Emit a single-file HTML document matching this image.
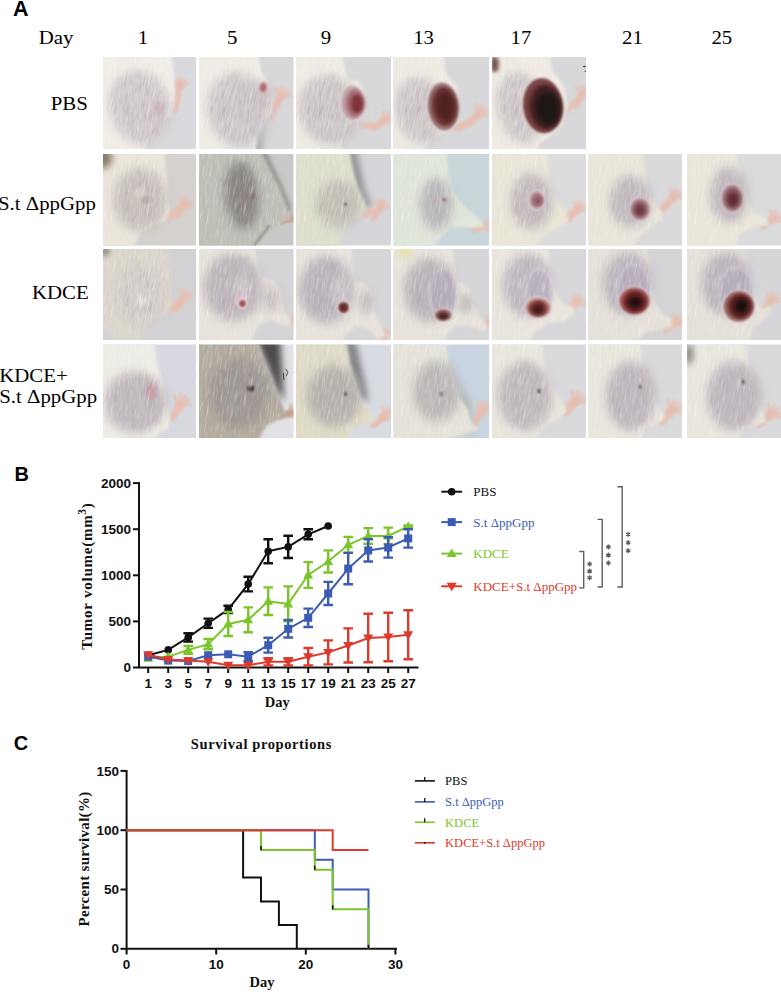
<!DOCTYPE html>
<html><head><meta charset="utf-8"><style>
html,body{margin:0;padding:0;background:#fff;}
svg{display:block;}
</style></head><body>
<svg width="781" height="992" viewBox="0 0 781 992">
<defs>
<filter id="b1" filterUnits="userSpaceOnUse" x="-40" y="-40" width="180" height="180"><feGaussianBlur stdDeviation="1"/></filter>
<filter id="b1_5" filterUnits="userSpaceOnUse" x="-40" y="-40" width="180" height="180"><feGaussianBlur stdDeviation="1.5"/></filter>
<filter id="b2" filterUnits="userSpaceOnUse" x="-40" y="-40" width="180" height="180"><feGaussianBlur stdDeviation="2"/></filter>
<filter id="b3" filterUnits="userSpaceOnUse" x="-40" y="-40" width="180" height="180"><feGaussianBlur stdDeviation="3"/></filter>
<filter id="b4" filterUnits="userSpaceOnUse" x="-40" y="-40" width="180" height="180"><feGaussianBlur stdDeviation="4"/></filter>
<filter id="b5" filterUnits="userSpaceOnUse" x="-40" y="-40" width="180" height="180"><feGaussianBlur stdDeviation="5"/></filter>
<filter id="b6" filterUnits="userSpaceOnUse" x="-40" y="-40" width="180" height="180"><feGaussianBlur stdDeviation="6"/></filter>
<filter id="b7" filterUnits="userSpaceOnUse" x="-40" y="-40" width="180" height="180"><feGaussianBlur stdDeviation="7"/></filter>
<filter id="b8" filterUnits="userSpaceOnUse" x="-40" y="-40" width="180" height="180"><feGaussianBlur stdDeviation="8"/></filter>
<filter id="b10" filterUnits="userSpaceOnUse" x="-40" y="-40" width="180" height="180"><feGaussianBlur stdDeviation="10"/></filter>
<filter id="fur" filterUnits="userSpaceOnUse" x="-40" y="-40" width="180" height="180">
<feGaussianBlur in="SourceAlpha" stdDeviation="5" result="a"/>
<feTurbulence type="fractalNoise" baseFrequency="0.9 0.07" numOctaves="2" seed="4" result="noise"/>
<feColorMatrix in="noise" type="matrix" values="0 0 0 0 0.45  0 0 0 0 0.36  0 0 0 0 0.40  1.5 0 0 0 -0.66" result="streak"/>
<feComposite in="streak" in2="a" operator="in"/>
</filter>
<filter id="furl" filterUnits="userSpaceOnUse" x="-40" y="-40" width="180" height="180">
<feGaussianBlur in="SourceAlpha" stdDeviation="1.5" result="a"/>
<feTurbulence type="fractalNoise" baseFrequency="0.9 0.06" numOctaves="2" seed="11" result="noise"/>
<feColorMatrix in="noise" type="matrix" values="0 0 0 0 1  0 0 0 0 1  0 0 0 0 0.98  1.0 0 0 0 -0.5" result="streak"/>
<feComposite in="streak" in2="a" operator="in"/>
</filter>
<clipPath id="cp"><rect x="0" y="0" width="100" height="100"/></clipPath>
</defs>
<rect width="781" height="992" fill="#fff"/>
<text x="13" y="16" font-family='"Liberation Sans", sans-serif' font-size="21.5" font-weight="bold" text-anchor="start" fill="#000" >A</text>
<text transform="translate(38.8,44.2) scale(1.17,1)" font-family='"Liberation Serif", serif' font-size="17.8" text-anchor="start" fill="#000">Day</text>
<text transform="translate(143,44.2) scale(1.17,1)" font-family='"Liberation Serif", serif' font-size="17.8" text-anchor="middle" fill="#000">1</text>
<text transform="translate(232.1,44.2) scale(1.17,1)" font-family='"Liberation Serif", serif' font-size="17.8" text-anchor="middle" fill="#000">5</text>
<text transform="translate(325.9,44.2) scale(1.17,1)" font-family='"Liberation Serif", serif' font-size="17.8" text-anchor="middle" fill="#000">9</text>
<text transform="translate(423.6,44.2) scale(1.17,1)" font-family='"Liberation Serif", serif' font-size="17.8" text-anchor="middle" fill="#000">13</text>
<text transform="translate(521,44.2) scale(1.17,1)" font-family='"Liberation Serif", serif' font-size="17.8" text-anchor="middle" fill="#000">17</text>
<text transform="translate(632.5,44.2) scale(1.17,1)" font-family='"Liberation Serif", serif' font-size="17.8" text-anchor="middle" fill="#000">21</text>
<text transform="translate(721.8,44.2) scale(1.17,1)" font-family='"Liberation Serif", serif' font-size="17.8" text-anchor="middle" fill="#000">25</text>
<text transform="translate(87.8,109.8) scale(1.17,1)" font-family='"Liberation Serif", serif' font-size="17.8" text-anchor="end" fill="#000">PBS</text>
<text transform="translate(95.8,210.3) scale(1.17,1)" font-family='"Liberation Serif", serif' font-size="17.8" text-anchor="end" fill="#000">S.t ΔppGpp</text>
<text transform="translate(88.7,299.3) scale(1.17,1)" font-family='"Liberation Serif", serif' font-size="17.8" text-anchor="end" fill="#000">KDCE</text>
<text transform="translate(-0.7,382) scale(1.17,1)" font-family='"Liberation Serif", serif' font-size="17.8" text-anchor="start" fill="#000">KDCE+</text>
<text transform="translate(-0.7,403.4) scale(1.17,1)" font-family='"Liberation Serif", serif' font-size="17.8" text-anchor="start" fill="#000">S.t ΔppGpp</text>
<g transform="translate(103,57) scale(0.9300,0.9200)"><g clip-path="url(#cp)"><rect x="-5" y="-5" width="110" height="110" fill="#dadade"/><path d="M72,60 L78,42 L84,40 L80,62Z" fill="#e6bfb2" filter="url(#b2)"/><g transform="translate(82,33) rotate(-75) scale(1.1)" fill="#e6bfb2" filter="url(#b1)"><rect x="-14" y="-2.6" width="14" height="5.2" rx="2.6"/><ellipse cx="0" cy="0" rx="5" ry="4.2"/><rect x="2.5" y="-1.1" width="8.5" height="2.2" rx="1.1" transform="rotate(-55)"/><rect x="2.5" y="-1.1" width="8.5" height="2.2" rx="1.1" transform="rotate(-25)"/><rect x="2.5" y="-1.1" width="8.5" height="2.2" rx="1.1" transform="rotate(0)"/><rect x="2.5" y="-1.1" width="8.5" height="2.2" rx="1.1" transform="rotate(25)"/><rect x="2.5" y="-1.1" width="8.5" height="2.2" rx="1.1" transform="rotate(50)"/></g><path d="M-5,-5 L73,-5 L76,15 L77,40 L76,55 L72,64 L62,70 L52,80 L44,105 L-5,105Z" fill="#f0ede7" filter="url(#b1_5)"/><ellipse cx="40" cy="55" rx="33.00" ry="41.04" transform="rotate(-15 40 55)" fill="#d1cacd" opacity="0.9" filter="url(#b5)"/><ellipse cx="60" cy="56" rx="6.00" ry="8.00" transform="rotate(0 60 56)" fill="#cdb2b6" opacity="0.8" filter="url(#b2)"/><g transform="rotate(12 50 50)" filter="url(#fur)"><g transform="rotate(-12 50 50)"><ellipse cx="40" cy="55" rx="31.50" ry="39.90" transform="rotate(-15 40 55)" fill="#000"/></g></g><g transform="rotate(8 50 50)" filter="url(#furl)"><path d="M-5,-5 L73,-5 L76,15 L77,40 L76,55 L72,64 L62,70 L52,80 L44,105 L-5,105Z" transform="rotate(-8 50 50)" fill="#000"/></g></g></g>
<g transform="translate(199,57) scale(0.9450,0.9200)"><g clip-path="url(#cp)"><rect x="-5" y="-5" width="110" height="110" fill="#d8d7da"/><path d="M56,76 L68,76 L66,105 L52,105Z" fill="#a2a2a4" filter="url(#b4)"/><path d="M72,66 L82,50 L86,52 L76,72Z" fill="#e6bfb2" filter="url(#b2)"/><g transform="translate(86,44) rotate(-60) scale(1.1)" fill="#e6bfb2" filter="url(#b1)"><rect x="-14" y="-2.6" width="14" height="5.2" rx="2.6"/><ellipse cx="0" cy="0" rx="5" ry="4.2"/><rect x="2.5" y="-1.1" width="8.5" height="2.2" rx="1.1" transform="rotate(-55)"/><rect x="2.5" y="-1.1" width="8.5" height="2.2" rx="1.1" transform="rotate(-25)"/><rect x="2.5" y="-1.1" width="8.5" height="2.2" rx="1.1" transform="rotate(0)"/><rect x="2.5" y="-1.1" width="8.5" height="2.2" rx="1.1" transform="rotate(25)"/><rect x="2.5" y="-1.1" width="8.5" height="2.2" rx="1.1" transform="rotate(50)"/></g><path d="M-5,-5 L62,-5 L66,15 L74,30 L78,48 L76,62 L68,74 L62,85 L60,105 L-5,105Z" fill="#eeece4" filter="url(#b1_5)"/><ellipse cx="42" cy="58" rx="33.00" ry="41.04" transform="rotate(-10 42 58)" fill="#cdc8ca" opacity="0.9" filter="url(#b5)"/><ellipse cx="67" cy="43" rx="9.90" ry="15.12" transform="rotate(0 67 43)" fill="#cdbfc1" opacity="0.9" filter="url(#b5)"/><g transform="rotate(12 50 50)" filter="url(#fur)"><g transform="rotate(-12 50 50)"><ellipse cx="42" cy="58" rx="31.50" ry="39.90" transform="rotate(-10 42 58)" fill="#000"/><ellipse cx="67" cy="43" rx="9.45" ry="14.70" transform="rotate(0 67 43)" fill="#000"/></g></g><g transform="rotate(8 50 50)" filter="url(#furl)"><path d="M-5,-5 L62,-5 L66,15 L74,30 L78,48 L76,62 L68,74 L62,85 L60,105 L-5,105Z" transform="rotate(-8 50 50)" fill="#000"/></g><ellipse cx="68" cy="33" rx="3.5" ry="5" fill="#b06070" filter="url(#b1_5)"/></g></g>
<g transform="translate(296,57) scale(0.9500,0.9200)"><g clip-path="url(#cp)"><rect x="-5" y="-5" width="110" height="110" fill="#d8d8da"/><path d="M66,70 L86,72 L88,78 L70,78Z" fill="#e6bfb2" filter="url(#b2)"/><g transform="translate(92,70) rotate(-35) scale(1.1)" fill="#e6bfb2" filter="url(#b1)"><rect x="-14" y="-2.6" width="14" height="5.2" rx="2.6"/><ellipse cx="0" cy="0" rx="5" ry="4.2"/><rect x="2.5" y="-1.1" width="8.5" height="2.2" rx="1.1" transform="rotate(-55)"/><rect x="2.5" y="-1.1" width="8.5" height="2.2" rx="1.1" transform="rotate(-25)"/><rect x="2.5" y="-1.1" width="8.5" height="2.2" rx="1.1" transform="rotate(0)"/><rect x="2.5" y="-1.1" width="8.5" height="2.2" rx="1.1" transform="rotate(25)"/><rect x="2.5" y="-1.1" width="8.5" height="2.2" rx="1.1" transform="rotate(50)"/></g><path d="M-5,-5 L48,-5 L52,15 L55,25 L66,26 L72,40 L73,58 L70,66 L62,78 L50,90 L46,105 L-5,105Z" fill="#eeebe3" filter="url(#b1_5)"/><ellipse cx="36" cy="58" rx="33.00" ry="38.88" transform="rotate(-15 36 58)" fill="#cdc7c9" opacity="0.9" filter="url(#b5)"/><g transform="rotate(12 50 50)" filter="url(#fur)"><g transform="rotate(-12 50 50)"><ellipse cx="36" cy="58" rx="31.50" ry="37.80" transform="rotate(-15 36 58)" fill="#000"/></g></g><g transform="rotate(8 50 50)" filter="url(#furl)"><path d="M-5,-5 L48,-5 L52,15 L55,25 L66,26 L72,40 L73,58 L70,66 L62,78 L50,90 L46,105 L-5,105Z" transform="rotate(-8 50 50)" fill="#000"/></g><g transform="rotate(0 59 50)"><ellipse cx="59" cy="50" rx="13.2" ry="20.2" fill="#e6dcd8" filter="url(#b1)"/><ellipse cx="59" cy="50" rx="12" ry="19" fill="#c4b0b4" filter="url(#b1)"/><ellipse cx="61.64" cy="50.38" rx="9.84" ry="15.58" fill="#a87078" filter="url(#b2)"/><ellipse cx="64.28" cy="50.76" rx="6.60" ry="10.45" fill="#7c3038" filter="url(#b2)"/></g></g></g>
<g transform="translate(393.5,57) scale(0.9550,0.9200)"><g clip-path="url(#cp)"><rect x="-5" y="-5" width="110" height="110" fill="#d8d8da"/><path d="M60,75 L82,66 L86,72 L66,82Z" fill="#e6bfb2" filter="url(#b2)"/><g transform="translate(88,63) rotate(-45) scale(1.2)" fill="#e6bfb2" filter="url(#b1)"><rect x="-14" y="-2.6" width="14" height="5.2" rx="2.6"/><ellipse cx="0" cy="0" rx="5" ry="4.2"/><rect x="2.5" y="-1.1" width="8.5" height="2.2" rx="1.1" transform="rotate(-55)"/><rect x="2.5" y="-1.1" width="8.5" height="2.2" rx="1.1" transform="rotate(-25)"/><rect x="2.5" y="-1.1" width="8.5" height="2.2" rx="1.1" transform="rotate(0)"/><rect x="2.5" y="-1.1" width="8.5" height="2.2" rx="1.1" transform="rotate(25)"/><rect x="2.5" y="-1.1" width="8.5" height="2.2" rx="1.1" transform="rotate(50)"/></g><path d="M-5,-5 L52,-5 L54,15 L60,25 L66,32 L68,50 L66,70 L58,80 L40,90 L30,105 L-5,105Z" fill="#eeeae2" filter="url(#b1_5)"/><ellipse cx="28" cy="58" rx="26.40" ry="36.72" transform="rotate(-10 28 58)" fill="#cfc9ca" opacity="0.9" filter="url(#b5)"/><g transform="rotate(12 50 50)" filter="url(#fur)"><g transform="rotate(-12 50 50)"><ellipse cx="28" cy="58" rx="25.20" ry="35.70" transform="rotate(-10 28 58)" fill="#000"/></g></g><g transform="rotate(8 50 50)" filter="url(#furl)"><path d="M-5,-5 L52,-5 L54,15 L60,25 L66,32 L68,50 L66,70 L58,80 L40,90 L30,105 L-5,105Z" transform="rotate(-8 50 50)" fill="#000"/></g><g transform="rotate(-5 52 54)"><ellipse cx="52" cy="54" rx="17.2" ry="27.2" fill="#e6dcd8" filter="url(#b1)"/><ellipse cx="52" cy="54" rx="16" ry="26" fill="#9a7474" filter="url(#b1)"/><ellipse cx="53.28" cy="54.00" rx="13.12" ry="21.32" fill="#6a3030" filter="url(#b2)"/><ellipse cx="54.56" cy="54.00" rx="9.60" ry="15.60" fill="#502222" filter="url(#b3)"/></g></g></g>
<g transform="translate(492,57) scale(0.9400,0.9200)"><g clip-path="url(#cp)"><rect x="-5" y="-5" width="110" height="110" fill="#d8d8da"/><path d="M78,55 L92,42 L95,46 L80,62Z" fill="#e6bfb2" filter="url(#b2)"/><g transform="translate(95,42) rotate(-65) scale(1.1)" fill="#e6bfb2" filter="url(#b1)"><rect x="-14" y="-2.6" width="14" height="5.2" rx="2.6"/><ellipse cx="0" cy="0" rx="5" ry="4.2"/><rect x="2.5" y="-1.1" width="8.5" height="2.2" rx="1.1" transform="rotate(-55)"/><rect x="2.5" y="-1.1" width="8.5" height="2.2" rx="1.1" transform="rotate(-25)"/><rect x="2.5" y="-1.1" width="8.5" height="2.2" rx="1.1" transform="rotate(0)"/><rect x="2.5" y="-1.1" width="8.5" height="2.2" rx="1.1" transform="rotate(25)"/><rect x="2.5" y="-1.1" width="8.5" height="2.2" rx="1.1" transform="rotate(50)"/></g><path d="M-5,-5 L62,-5 L64,15 L72,25 L78,35 L80,55 L74,75 L62,85 L52,92 L46,105 L-5,105Z" fill="#eeeae2" filter="url(#b1_5)"/><ellipse cx="30" cy="55" rx="24.20" ry="38.88" transform="rotate(-10 30 55)" fill="#cfc9cb" opacity="0.9" filter="url(#b5)"/><g transform="rotate(12 50 50)" filter="url(#fur)"><g transform="rotate(-12 50 50)"><ellipse cx="30" cy="55" rx="23.10" ry="37.80" transform="rotate(-10 30 55)" fill="#000"/></g></g><g transform="rotate(8 50 50)" filter="url(#furl)"><path d="M-5,-5 L62,-5 L64,15 L72,25 L78,35 L80,55 L74,75 L62,85 L52,92 L46,105 L-5,105Z" transform="rotate(-8 50 50)" fill="#000"/></g><g transform="rotate(-5 54 53)"><ellipse cx="54" cy="53" rx="22.2" ry="31.2" fill="#e6dcd8" filter="url(#b1)"/><ellipse cx="54" cy="53" rx="21" ry="30" fill="#7a4444" filter="url(#b1)"/><ellipse cx="56.52" cy="54.50" rx="17.22" ry="24.60" fill="#4a2222" filter="url(#b2)"/><ellipse cx="59.04" cy="56.00" rx="13.02" ry="18.60" fill="#1c1614" filter="url(#b3)"/></g><ellipse cx="3" cy="8" rx="4" ry="9" fill="#6b4a40" filter="url(#b2)"/></g></g>
<g transform="translate(103,154) scale(0.9300,0.9150)"><g clip-path="url(#cp)"><rect x="-5" y="-5" width="110" height="110" fill="#d4d1ce"/><path d="M66,66 L82,56 L86,62 L70,74Z" fill="#e6bfb2" filter="url(#b2)"/><g transform="translate(86,58) rotate(-55) scale(1.1)" fill="#e6bfb2" filter="url(#b1)"><rect x="-14" y="-2.6" width="14" height="5.2" rx="2.6"/><ellipse cx="0" cy="0" rx="5" ry="4.2"/><rect x="2.5" y="-1.1" width="8.5" height="2.2" rx="1.1" transform="rotate(-55)"/><rect x="2.5" y="-1.1" width="8.5" height="2.2" rx="1.1" transform="rotate(-25)"/><rect x="2.5" y="-1.1" width="8.5" height="2.2" rx="1.1" transform="rotate(0)"/><rect x="2.5" y="-1.1" width="8.5" height="2.2" rx="1.1" transform="rotate(25)"/><rect x="2.5" y="-1.1" width="8.5" height="2.2" rx="1.1" transform="rotate(50)"/></g><path d="M-5,-5 L66,-5 L68,20 L70,45 L72,62 L68,72 L55,78 L40,88 L30,105 L-5,105Z" fill="#e9e4d8" filter="url(#b1_5)"/><ellipse cx="40" cy="50" rx="28.60" ry="34.56" transform="rotate(0 40 50)" fill="#c7c0bb" opacity="0.9" filter="url(#b5)"/><ellipse cx="40" cy="42" rx="6.00" ry="6.00" transform="rotate(0 40 42)" fill="#ddd6cc" opacity="0.8" filter="url(#b2)"/><ellipse cx="47" cy="50" rx="5.00" ry="5.00" transform="rotate(0 47 50)" fill="#b4a8a2" opacity="0.8" filter="url(#b2)"/><g transform="rotate(12 50 50)" filter="url(#fur)"><g transform="rotate(-12 50 50)"><ellipse cx="40" cy="50" rx="27.30" ry="33.60" transform="rotate(0 40 50)" fill="#000"/></g></g><g transform="rotate(8 50 50)" filter="url(#furl)"><path d="M-5,-5 L66,-5 L68,20 L70,45 L72,62 L68,72 L55,78 L40,88 L30,105 L-5,105Z" transform="rotate(-8 50 50)" fill="#000"/></g><ellipse cx="0" cy="4" rx="10" ry="12" fill="#8a7a6a" filter="url(#b4)"/></g></g>
<g transform="translate(199,154) scale(0.9450,0.9150)"><g clip-path="url(#cp)"><rect x="-5" y="-5" width="110" height="110" fill="#c8cac8"/><path d="M62,-5 L70,-5 L88,35 L98,60 L92,64 L80,38Z" fill="#8e908e" filter="url(#b3)"/><g transform="translate(96,72) rotate(-20) scale(0.8)" fill="#c8a898" filter="url(#b1)"><rect x="-14" y="-2.6" width="14" height="5.2" rx="2.6"/><ellipse cx="0" cy="0" rx="5" ry="4.2"/><rect x="2.5" y="-1.1" width="8.5" height="2.2" rx="1.1" transform="rotate(-55)"/><rect x="2.5" y="-1.1" width="8.5" height="2.2" rx="1.1" transform="rotate(-25)"/><rect x="2.5" y="-1.1" width="8.5" height="2.2" rx="1.1" transform="rotate(0)"/><rect x="2.5" y="-1.1" width="8.5" height="2.2" rx="1.1" transform="rotate(25)"/><rect x="2.5" y="-1.1" width="8.5" height="2.2" rx="1.1" transform="rotate(50)"/></g><path d="M-5,-5 L64,-5 L74,15 L84,35 L92,55 L96,70 L84,78 L70,88 L60,105 L-5,105Z" fill="#bebeb6" filter="url(#b1_5)"/><ellipse cx="45" cy="45" rx="17.60" ry="36.72" transform="rotate(-5 45 45)" fill="#85837f" opacity="1" filter="url(#b5)"/><ellipse cx="56" cy="46" rx="4.00" ry="4.00" transform="rotate(0 56 46)" fill="#7a6666" opacity="0.8" filter="url(#b2)"/><g transform="rotate(12 50 50)" filter="url(#fur)"><g transform="rotate(-12 50 50)"><ellipse cx="45" cy="45" rx="16.80" ry="35.70" transform="rotate(-5 45 45)" fill="#000"/></g></g><g transform="rotate(8 50 50)" filter="url(#furl)"><path d="M-5,-5 L64,-5 L74,15 L84,35 L92,55 L96,70 L84,78 L70,88 L60,105 L-5,105Z" transform="rotate(-8 50 50)" fill="#000"/></g><path d="M58,100 L75,78" stroke="#6a6a68" stroke-width="1.2" filter="url(#b1)"/></g></g>
<g transform="translate(296,154) scale(0.9500,0.9150)"><g clip-path="url(#cp)"><rect x="-5" y="-5" width="110" height="110" fill="#d6d6da"/><path d="M55,-5 L63,-5 L72,40 L80,58 L72,58 L62,35Z" fill="#86888c" filter="url(#b4)"/><path d="M68,62 L84,58 L86,65 L72,70Z" fill="#e6bfb2" filter="url(#b2)"/><g transform="translate(88,60) rotate(-60) scale(1.1)" fill="#e6bfb2" filter="url(#b1)"><rect x="-14" y="-2.6" width="14" height="5.2" rx="2.6"/><ellipse cx="0" cy="0" rx="5" ry="4.2"/><rect x="2.5" y="-1.1" width="8.5" height="2.2" rx="1.1" transform="rotate(-55)"/><rect x="2.5" y="-1.1" width="8.5" height="2.2" rx="1.1" transform="rotate(-25)"/><rect x="2.5" y="-1.1" width="8.5" height="2.2" rx="1.1" transform="rotate(0)"/><rect x="2.5" y="-1.1" width="8.5" height="2.2" rx="1.1" transform="rotate(25)"/><rect x="2.5" y="-1.1" width="8.5" height="2.2" rx="1.1" transform="rotate(50)"/></g><path d="M-5,-5 L55,-5 L60,20 L66,40 L72,52 L74,60 L66,70 L55,80 L48,90 L44,105 L-5,105Z" fill="#dedecc" filter="url(#b1_5)"/><ellipse cx="45" cy="55" rx="24.20" ry="27.00" transform="rotate(0 45 55)" fill="#c1bfb5" opacity="0.85" filter="url(#b5)"/><ellipse cx="52" cy="55" rx="1.50" ry="2.00" transform="rotate(0 52 55)" fill="#6a4040" opacity="1" filter="url(#b1)"/><g transform="rotate(12 50 50)" filter="url(#fur)"><g transform="rotate(-12 50 50)"><ellipse cx="45" cy="55" rx="23.10" ry="26.25" transform="rotate(0 45 55)" fill="#000"/></g></g><g transform="rotate(8 50 50)" filter="url(#furl)"><path d="M-5,-5 L55,-5 L60,20 L66,40 L72,52 L74,60 L66,70 L55,80 L48,90 L44,105 L-5,105Z" transform="rotate(-8 50 50)" fill="#000"/></g></g></g>
<g transform="translate(393.5,154) scale(0.9550,0.9150)"><g clip-path="url(#cp)"><rect x="-5" y="-5" width="110" height="110" fill="#c8d6da"/><g transform="translate(94,80) rotate(-20) scale(1.0)" fill="#e6bfb2" filter="url(#b1)"><rect x="-14" y="-2.6" width="14" height="5.2" rx="2.6"/><ellipse cx="0" cy="0" rx="5" ry="4.2"/><rect x="2.5" y="-1.1" width="8.5" height="2.2" rx="1.1" transform="rotate(-55)"/><rect x="2.5" y="-1.1" width="8.5" height="2.2" rx="1.1" transform="rotate(-25)"/><rect x="2.5" y="-1.1" width="8.5" height="2.2" rx="1.1" transform="rotate(0)"/><rect x="2.5" y="-1.1" width="8.5" height="2.2" rx="1.1" transform="rotate(25)"/><rect x="2.5" y="-1.1" width="8.5" height="2.2" rx="1.1" transform="rotate(50)"/></g><path d="M-5,-5 L55,-5 L58,20 L62,40 L70,52 L80,62 L92,72 L95,80 L80,80 L62,80 L50,90 L40,105 L-5,105Z" fill="#dfe4d8" filter="url(#b1_5)"/><ellipse cx="45" cy="55" rx="16.50" ry="28.08" transform="rotate(0 45 55)" fill="#b6b4ba" opacity="0.9" filter="url(#b5)"/><ellipse cx="53" cy="50" rx="1.50" ry="2.00" transform="rotate(0 53 50)" fill="#704040" opacity="1" filter="url(#b1)"/><g transform="rotate(12 50 50)" filter="url(#fur)"><g transform="rotate(-12 50 50)"><ellipse cx="45" cy="55" rx="15.75" ry="27.30" transform="rotate(0 45 55)" fill="#000"/></g></g><g transform="rotate(8 50 50)" filter="url(#furl)"><path d="M-5,-5 L55,-5 L58,20 L62,40 L70,52 L80,62 L92,72 L95,80 L80,80 L62,80 L50,90 L40,105 L-5,105Z" transform="rotate(-8 50 50)" fill="#000"/></g></g></g>
<g transform="translate(492,154) scale(0.9400,0.9150)"><g clip-path="url(#cp)"><rect x="-5" y="-5" width="110" height="110" fill="#dcdcdc"/><path d="M72,68 L86,60 L88,66 L76,76Z" fill="#e6bfb2" filter="url(#b2)"/><g transform="translate(90,62) rotate(-50) scale(1.1)" fill="#e6bfb2" filter="url(#b1)"><rect x="-14" y="-2.6" width="14" height="5.2" rx="2.6"/><ellipse cx="0" cy="0" rx="5" ry="4.2"/><rect x="2.5" y="-1.1" width="8.5" height="2.2" rx="1.1" transform="rotate(-55)"/><rect x="2.5" y="-1.1" width="8.5" height="2.2" rx="1.1" transform="rotate(-25)"/><rect x="2.5" y="-1.1" width="8.5" height="2.2" rx="1.1" transform="rotate(0)"/><rect x="2.5" y="-1.1" width="8.5" height="2.2" rx="1.1" transform="rotate(25)"/><rect x="2.5" y="-1.1" width="8.5" height="2.2" rx="1.1" transform="rotate(50)"/></g><path d="M-5,-5 L58,-5 L60,20 L62,40 L70,52 L78,62 L82,72 L75,78 L60,85 L52,92 L48,105 L-5,105Z" fill="#e9e4d6" filter="url(#b1_5)"/><ellipse cx="42" cy="52" rx="22.00" ry="30.24" transform="rotate(0 42 52)" fill="#c2babe" opacity="0.9" filter="url(#b5)"/><g transform="rotate(12 50 50)" filter="url(#fur)"><g transform="rotate(-12 50 50)"><ellipse cx="42" cy="52" rx="21.00" ry="29.40" transform="rotate(0 42 52)" fill="#000"/></g></g><g transform="rotate(8 50 50)" filter="url(#furl)"><path d="M-5,-5 L58,-5 L60,20 L62,40 L70,52 L78,62 L82,72 L75,78 L60,85 L52,92 L48,105 L-5,105Z" transform="rotate(-8 50 50)" fill="#000"/></g><g transform="rotate(0 47 50)"><ellipse cx="47" cy="50" rx="9.2" ry="11.2" fill="#dcd2d4" filter="url(#b1)"/><ellipse cx="47" cy="50" rx="8" ry="10" fill="#c8acb2" filter="url(#b1)"/><ellipse cx="47.96" cy="50.50" rx="6.56" ry="8.20" fill="#a87c86" filter="url(#b1)"/><ellipse cx="48.92" cy="51.00" rx="3.60" ry="4.50" fill="#8e5262" filter="url(#b2)"/></g></g></g>
<g transform="translate(588.5,154) scale(0.9350,0.9150)"><g clip-path="url(#cp)"><rect x="-5" y="-5" width="110" height="110" fill="#dadada"/><path d="M72,62 L86,48 L90,52 L76,70Z" fill="#e6bfb2" filter="url(#b2)"/><g transform="translate(90,48) rotate(-50) scale(1.1)" fill="#e6bfb2" filter="url(#b1)"><rect x="-14" y="-2.6" width="14" height="5.2" rx="2.6"/><ellipse cx="0" cy="0" rx="5" ry="4.2"/><rect x="2.5" y="-1.1" width="8.5" height="2.2" rx="1.1" transform="rotate(-55)"/><rect x="2.5" y="-1.1" width="8.5" height="2.2" rx="1.1" transform="rotate(-25)"/><rect x="2.5" y="-1.1" width="8.5" height="2.2" rx="1.1" transform="rotate(0)"/><rect x="2.5" y="-1.1" width="8.5" height="2.2" rx="1.1" transform="rotate(25)"/><rect x="2.5" y="-1.1" width="8.5" height="2.2" rx="1.1" transform="rotate(50)"/></g><path d="M-5,-5 L58,-5 L60,20 L62,40 L70,52 L78,62 L80,70 L72,76 L60,85 L52,92 L48,105 L-5,105Z" fill="#e9e4d8" filter="url(#b1_5)"/><ellipse cx="45" cy="52" rx="22.00" ry="28.08" transform="rotate(0 45 52)" fill="#bfb8bf" opacity="0.9" filter="url(#b5)"/><g transform="rotate(12 50 50)" filter="url(#fur)"><g transform="rotate(-12 50 50)"><ellipse cx="45" cy="52" rx="21.00" ry="27.30" transform="rotate(0 45 52)" fill="#000"/></g></g><g transform="rotate(8 50 50)" filter="url(#furl)"><path d="M-5,-5 L58,-5 L60,20 L62,40 L70,52 L78,62 L80,70 L72,76 L60,85 L52,92 L48,105 L-5,105Z" transform="rotate(-8 50 50)" fill="#000"/></g><g transform="rotate(0 55 60)"><ellipse cx="55" cy="60" rx="11.2" ry="13.2" fill="#dcd2d4" filter="url(#b1)"/><ellipse cx="55" cy="60" rx="10" ry="12" fill="#bc9ca2" filter="url(#b1)"/><ellipse cx="55.00" cy="60.60" rx="8.20" ry="9.84" fill="#8e5e66" filter="url(#b2)"/><ellipse cx="55.00" cy="61.20" rx="5.00" ry="6.00" fill="#6e3840" filter="url(#b2)"/></g></g></g>
<g transform="translate(687,154) scale(0.9400,0.9150)"><g clip-path="url(#cp)"><rect x="-5" y="-5" width="110" height="110" fill="#dadbdc"/><g transform="translate(90,72) rotate(-40) scale(1.1)" fill="#e6bfb2" filter="url(#b1)"><rect x="-14" y="-2.6" width="14" height="5.2" rx="2.6"/><ellipse cx="0" cy="0" rx="5" ry="4.2"/><rect x="2.5" y="-1.1" width="8.5" height="2.2" rx="1.1" transform="rotate(-55)"/><rect x="2.5" y="-1.1" width="8.5" height="2.2" rx="1.1" transform="rotate(-25)"/><rect x="2.5" y="-1.1" width="8.5" height="2.2" rx="1.1" transform="rotate(0)"/><rect x="2.5" y="-1.1" width="8.5" height="2.2" rx="1.1" transform="rotate(25)"/><rect x="2.5" y="-1.1" width="8.5" height="2.2" rx="1.1" transform="rotate(50)"/></g><path d="M-5,-5 L52,-5 L56,20 L62,35 L66,55 L72,65 L84,70 L88,78 L70,80 L55,88 L50,105 L-5,105Z" fill="#e9e5d8" filter="url(#b1_5)"/><ellipse cx="45" cy="45" rx="19.80" ry="30.24" transform="rotate(0 45 45)" fill="#bcb6be" opacity="0.9" filter="url(#b5)"/><g transform="rotate(12 50 50)" filter="url(#fur)"><g transform="rotate(-12 50 50)"><ellipse cx="45" cy="45" rx="18.90" ry="29.40" transform="rotate(0 45 45)" fill="#000"/></g></g><g transform="rotate(8 50 50)" filter="url(#furl)"><path d="M-5,-5 L52,-5 L56,20 L62,35 L66,55 L72,65 L84,70 L88,78 L70,80 L55,88 L50,105 L-5,105Z" transform="rotate(-8 50 50)" fill="#000"/></g><g transform="rotate(0 48 48)"><ellipse cx="48" cy="48" rx="12.2" ry="16.2" fill="#dcd2d4" filter="url(#b1)"/><ellipse cx="48" cy="48" rx="11" ry="15" fill="#b4949a" filter="url(#b1)"/><ellipse cx="48.55" cy="48.75" rx="9.02" ry="12.30" fill="#84525a" filter="url(#b2)"/><ellipse cx="49.10" cy="49.50" rx="5.50" ry="7.50" fill="#5e2c34" filter="url(#b2)"/></g></g></g>
<g transform="translate(103,249) scale(0.9300,0.9100)"><g clip-path="url(#cp)"><rect x="-5" y="-5" width="110" height="110" fill="#d2d2d4"/><path d="M68,64 L82,54 L86,60 L72,72Z" fill="#e6bfb2" filter="url(#b2)"/><g transform="translate(86,55) rotate(-60) scale(1.1)" fill="#e6bfb2" filter="url(#b1)"><rect x="-14" y="-2.6" width="14" height="5.2" rx="2.6"/><ellipse cx="0" cy="0" rx="5" ry="4.2"/><rect x="2.5" y="-1.1" width="8.5" height="2.2" rx="1.1" transform="rotate(-55)"/><rect x="2.5" y="-1.1" width="8.5" height="2.2" rx="1.1" transform="rotate(-25)"/><rect x="2.5" y="-1.1" width="8.5" height="2.2" rx="1.1" transform="rotate(0)"/><rect x="2.5" y="-1.1" width="8.5" height="2.2" rx="1.1" transform="rotate(25)"/><rect x="2.5" y="-1.1" width="8.5" height="2.2" rx="1.1" transform="rotate(50)"/></g><path d="M-5,-5 L70,-5 L72,20 L73,45 L74,62 L70,70 L58,74 L48,82 L42,95 L40,105 L14,105 L10,92 L-5,85Z" fill="#dad4ca" filter="url(#b1_5)"/><ellipse cx="40" cy="50" rx="27.50" ry="34.56" transform="rotate(0 40 50)" fill="#d5d0cd" opacity="0.7" filter="url(#b5)"/><ellipse cx="42" cy="56" rx="5.00" ry="7.00" transform="rotate(0 42 56)" fill="#eee8e2" opacity="0.9" filter="url(#b2)"/><g transform="rotate(12 50 50)" filter="url(#fur)"><g transform="rotate(-12 50 50)"><ellipse cx="40" cy="50" rx="26.25" ry="33.60" transform="rotate(0 40 50)" fill="#000"/></g></g><g transform="rotate(8 50 50)" filter="url(#furl)"><path d="M-5,-5 L70,-5 L72,20 L73,45 L74,62 L70,70 L58,74 L48,82 L42,95 L40,105 L14,105 L10,92 L-5,85Z" transform="rotate(-8 50 50)" fill="#000"/></g><ellipse cx="2" cy="2" rx="6" ry="6" fill="#9a948c" filter="url(#b3)"/></g></g>
<g transform="translate(199,249) scale(0.9450,0.9100)"><g clip-path="url(#cp)"><rect x="-5" y="-5" width="110" height="110" fill="#d4d4d6"/><g transform="translate(97,79) rotate(-15) scale(0.9)" fill="#e6bfb2" filter="url(#b1)"><rect x="-14" y="-2.6" width="14" height="5.2" rx="2.6"/><ellipse cx="0" cy="0" rx="5" ry="4.2"/><rect x="2.5" y="-1.1" width="8.5" height="2.2" rx="1.1" transform="rotate(-55)"/><rect x="2.5" y="-1.1" width="8.5" height="2.2" rx="1.1" transform="rotate(-25)"/><rect x="2.5" y="-1.1" width="8.5" height="2.2" rx="1.1" transform="rotate(0)"/><rect x="2.5" y="-1.1" width="8.5" height="2.2" rx="1.1" transform="rotate(25)"/><rect x="2.5" y="-1.1" width="8.5" height="2.2" rx="1.1" transform="rotate(50)"/></g><path d="M-5,-5 L58,-5 L62,15 L66,30 L78,35 L86,45 L88,60 L90,70 L97,76 L97,84 L88,84 L76,78 L66,82 L58,92 L56,105 L-5,105Z" fill="#e6e2da" filter="url(#b1_5)"/><ellipse cx="36" cy="42" rx="30.80" ry="36.72" transform="rotate(0 36 42)" fill="#bab4bb" opacity="0.9" filter="url(#b5)"/><ellipse cx="76" cy="55" rx="9.90" ry="14.04" transform="rotate(0 76 55)" fill="#c1bbbf" opacity="0.7" filter="url(#b5)"/><ellipse cx="46" cy="45" rx="8.00" ry="16.00" transform="rotate(0 46 45)" fill="#d8d2d6" opacity="0.8" filter="url(#b3)"/><g transform="rotate(12 50 50)" filter="url(#fur)"><g transform="rotate(-12 50 50)"><ellipse cx="36" cy="42" rx="29.40" ry="35.70" transform="rotate(0 36 42)" fill="#000"/><ellipse cx="76" cy="55" rx="9.45" ry="13.65" transform="rotate(0 76 55)" fill="#000"/></g></g><g transform="rotate(8 50 50)" filter="url(#furl)"><path d="M-5,-5 L58,-5 L62,15 L66,30 L78,35 L86,45 L88,60 L90,70 L97,76 L97,84 L88,84 L76,78 L66,82 L58,92 L56,105 L-5,105Z" transform="rotate(-8 50 50)" fill="#000"/></g><g transform="rotate(0 46 60)"><ellipse cx="46" cy="60" rx="5.2" ry="5.7" fill="#ece4e2" filter="url(#b1)"/><ellipse cx="46" cy="60" rx="4" ry="4.5" fill="#d8a8a8" filter="url(#b1)"/><ellipse cx="46.00" cy="60.00" rx="3.28" ry="3.69" fill="#b87070" filter="url(#b1)"/><ellipse cx="46.00" cy="60.00" rx="2.00" ry="2.25" fill="#8a4040" filter="url(#b1)"/></g></g></g>
<g transform="translate(296,249) scale(0.9500,0.9100)"><g clip-path="url(#cp)"><rect x="-5" y="-5" width="110" height="110" fill="#d6d6d8"/><g transform="translate(92,96) rotate(-80) scale(0.9)" fill="#e6bfb2" filter="url(#b1)"><rect x="-14" y="-2.6" width="14" height="5.2" rx="2.6"/><ellipse cx="0" cy="0" rx="5" ry="4.2"/><rect x="2.5" y="-1.1" width="8.5" height="2.2" rx="1.1" transform="rotate(-55)"/><rect x="2.5" y="-1.1" width="8.5" height="2.2" rx="1.1" transform="rotate(-25)"/><rect x="2.5" y="-1.1" width="8.5" height="2.2" rx="1.1" transform="rotate(0)"/><rect x="2.5" y="-1.1" width="8.5" height="2.2" rx="1.1" transform="rotate(25)"/><rect x="2.5" y="-1.1" width="8.5" height="2.2" rx="1.1" transform="rotate(50)"/></g><path d="M-5,-5 L58,-5 L60,20 L62,35 L72,38 L80,48 L82,62 L84,75 L90,85 L94,96 L86,100 L76,88 L62,84 L52,95 L48,105 L-5,105Z" fill="#e6e2da" filter="url(#b1_5)"/><ellipse cx="32" cy="45" rx="28.60" ry="36.72" transform="rotate(0 32 45)" fill="#b7b1bb" opacity="0.9" filter="url(#b5)"/><ellipse cx="74" cy="58" rx="8.00" ry="14.00" transform="rotate(0 74 58)" fill="#bab2b8" opacity="0.7" filter="url(#b4)"/><ellipse cx="46" cy="45" rx="8.00" ry="16.00" transform="rotate(0 46 45)" fill="#d4ced4" opacity="0.8" filter="url(#b3)"/><g transform="rotate(12 50 50)" filter="url(#fur)"><g transform="rotate(-12 50 50)"><ellipse cx="32" cy="45" rx="27.30" ry="35.70" transform="rotate(0 32 45)" fill="#000"/></g></g><g transform="rotate(8 50 50)" filter="url(#furl)"><path d="M-5,-5 L58,-5 L60,20 L62,35 L72,38 L80,48 L82,62 L84,75 L90,85 L94,96 L86,100 L76,88 L62,84 L52,95 L48,105 L-5,105Z" transform="rotate(-8 50 50)" fill="#000"/></g><g transform="rotate(0 50 64)"><ellipse cx="50" cy="64" rx="7.2" ry="7.7" fill="#ece2e0" filter="url(#b1)"/><ellipse cx="50" cy="64" rx="6" ry="6.5" fill="#b88888" filter="url(#b1)"/><ellipse cx="50.00" cy="64.33" rx="4.92" ry="5.33" fill="#7a4444" filter="url(#b1)"/><ellipse cx="50.00" cy="64.65" rx="3.30" ry="3.58" fill="#5a2a2a" filter="url(#b1)"/></g></g></g>
<g transform="translate(393.5,249) scale(0.9550,0.9100)"><g clip-path="url(#cp)"><rect x="-5" y="-5" width="110" height="110" fill="#d6d6d8"/><g transform="translate(97,82) rotate(-30) scale(0.9)" fill="#e6bfb2" filter="url(#b1)"><rect x="-14" y="-2.6" width="14" height="5.2" rx="2.6"/><ellipse cx="0" cy="0" rx="5" ry="4.2"/><rect x="2.5" y="-1.1" width="8.5" height="2.2" rx="1.1" transform="rotate(-55)"/><rect x="2.5" y="-1.1" width="8.5" height="2.2" rx="1.1" transform="rotate(-25)"/><rect x="2.5" y="-1.1" width="8.5" height="2.2" rx="1.1" transform="rotate(0)"/><rect x="2.5" y="-1.1" width="8.5" height="2.2" rx="1.1" transform="rotate(25)"/><rect x="2.5" y="-1.1" width="8.5" height="2.2" rx="1.1" transform="rotate(50)"/></g><path d="M-5,-5 L62,-5 L64,20 L66,35 L76,40 L84,50 L86,65 L90,75 L96,80 L98,88 L90,90 L80,84 L64,84 L56,94 L50,105 L-5,105Z" fill="#e6e2da" filter="url(#b1_5)"/><ellipse cx="38" cy="45" rx="26.40" ry="34.56" transform="rotate(0 38 45)" fill="#b6b1b8" opacity="0.9" filter="url(#b5)"/><ellipse cx="76" cy="60" rx="8.00" ry="12.00" transform="rotate(0 76 60)" fill="#bab2b8" opacity="0.7" filter="url(#b4)"/><ellipse cx="52" cy="50" rx="14" ry="28" fill="#b4acbc" stroke="#dcd4d8" stroke-width="1.6" opacity="0.85" filter="url(#b1_5)"/><g transform="rotate(12 50 50)" filter="url(#fur)"><g transform="rotate(-12 50 50)"><ellipse cx="38" cy="45" rx="25.20" ry="33.60" transform="rotate(0 38 45)" fill="#000"/></g></g><g transform="rotate(8 50 50)" filter="url(#furl)"><path d="M-5,-5 L62,-5 L64,20 L66,35 L76,40 L84,50 L86,65 L90,75 L96,80 L98,88 L90,90 L80,84 L64,84 L56,94 L50,105 L-5,105Z" transform="rotate(-8 50 50)" fill="#000"/></g><g transform="rotate(0 52 72)"><ellipse cx="52" cy="72" rx="9.7" ry="7.7" fill="#e6dcda" filter="url(#b1)"/><ellipse cx="52" cy="72" rx="8.5" ry="6.5" fill="#b89494" filter="url(#b1)"/><ellipse cx="52.00" cy="72.97" rx="6.97" ry="5.33" fill="#704040" filter="url(#b2)"/><ellipse cx="52.00" cy="73.95" rx="4.25" ry="3.25" fill="#3e1c1c" filter="url(#b2)"/></g><ellipse cx="12" cy="4" rx="7" ry="6" fill="#e8e0b0" filter="url(#b3)"/></g></g>
<g transform="translate(492,249) scale(0.9400,0.9100)"><g clip-path="url(#cp)"><rect x="-5" y="-5" width="110" height="110" fill="#d8d8da"/><g transform="translate(88,60) rotate(-40) scale(1.1)" fill="#e6bfb2" filter="url(#b1)"><rect x="-14" y="-2.6" width="14" height="5.2" rx="2.6"/><ellipse cx="0" cy="0" rx="5" ry="4.2"/><rect x="2.5" y="-1.1" width="8.5" height="2.2" rx="1.1" transform="rotate(-55)"/><rect x="2.5" y="-1.1" width="8.5" height="2.2" rx="1.1" transform="rotate(-25)"/><rect x="2.5" y="-1.1" width="8.5" height="2.2" rx="1.1" transform="rotate(0)"/><rect x="2.5" y="-1.1" width="8.5" height="2.2" rx="1.1" transform="rotate(25)"/><rect x="2.5" y="-1.1" width="8.5" height="2.2" rx="1.1" transform="rotate(50)"/></g><path d="M-5,-5 L60,-5 L62,20 L66,40 L72,55 L78,62 L86,62 L88,70 L76,80 L60,82 L45,92 L38,105 L-5,105Z" fill="#e8e4dc" filter="url(#b1_5)"/><ellipse cx="38" cy="40" rx="26.40" ry="34.56" transform="rotate(0 38 40)" fill="#bdb8c1" opacity="0.9" filter="url(#b5)"/><ellipse cx="50" cy="48" rx="14" ry="26" fill="#bab2c2" stroke="#ddd6da" stroke-width="1.6" opacity="0.85" filter="url(#b1_5)"/><g transform="rotate(12 50 50)" filter="url(#fur)"><g transform="rotate(-12 50 50)"><ellipse cx="38" cy="40" rx="25.20" ry="33.60" transform="rotate(0 38 40)" fill="#000"/></g></g><g transform="rotate(8 50 50)" filter="url(#furl)"><path d="M-5,-5 L60,-5 L62,20 L66,40 L72,55 L78,62 L86,62 L88,70 L76,80 L60,82 L45,92 L38,105 L-5,105Z" transform="rotate(-8 50 50)" fill="#000"/></g><g transform="rotate(0 49 64)"><ellipse cx="49" cy="64" rx="14.2" ry="12.2" fill="#e2d8d8" filter="url(#b1)"/><ellipse cx="49" cy="64" rx="13" ry="11" fill="#c4a0a0" filter="url(#b1)"/><ellipse cx="49.00" cy="65.10" rx="10.66" ry="9.02" fill="#8a3c3a" filter="url(#b2)"/><ellipse cx="49.00" cy="66.20" rx="6.50" ry="5.50" fill="#381818" filter="url(#b3)"/></g></g></g>
<g transform="translate(588.5,249) scale(0.9350,0.9100)"><g clip-path="url(#cp)"><rect x="-5" y="-5" width="110" height="110" fill="#d4d4d6"/><g transform="translate(92,82) rotate(-40) scale(1.1)" fill="#e6bfb2" filter="url(#b1)"><rect x="-14" y="-2.6" width="14" height="5.2" rx="2.6"/><ellipse cx="0" cy="0" rx="5" ry="4.2"/><rect x="2.5" y="-1.1" width="8.5" height="2.2" rx="1.1" transform="rotate(-55)"/><rect x="2.5" y="-1.1" width="8.5" height="2.2" rx="1.1" transform="rotate(-25)"/><rect x="2.5" y="-1.1" width="8.5" height="2.2" rx="1.1" transform="rotate(0)"/><rect x="2.5" y="-1.1" width="8.5" height="2.2" rx="1.1" transform="rotate(25)"/><rect x="2.5" y="-1.1" width="8.5" height="2.2" rx="1.1" transform="rotate(50)"/></g><path d="M-5,-5 L62,-5 L66,20 L68,40 L72,60 L80,72 L88,76 L90,86 L80,88 L60,92 L50,105 L-5,105Z" fill="#e4e0d8" filter="url(#b1_5)"/><ellipse cx="42" cy="38" rx="26.40" ry="34.56" transform="rotate(0 42 38)" fill="#bab4be" opacity="0.9" filter="url(#b5)"/><ellipse cx="48" cy="45" rx="18" ry="28" fill="#b6aebe" stroke="#dcd4d8" stroke-width="1.6" opacity="0.85" filter="url(#b1_5)"/><g transform="rotate(12 50 50)" filter="url(#fur)"><g transform="rotate(-12 50 50)"><ellipse cx="42" cy="38" rx="25.20" ry="33.60" transform="rotate(0 42 38)" fill="#000"/></g></g><g transform="rotate(8 50 50)" filter="url(#furl)"><path d="M-5,-5 L62,-5 L66,20 L68,40 L72,60 L80,72 L88,76 L90,86 L80,88 L60,92 L50,105 L-5,105Z" transform="rotate(-8 50 50)" fill="#000"/></g><g transform="rotate(0 49 57)"><ellipse cx="49" cy="57" rx="17.2" ry="16.2" fill="#e2d8d8" filter="url(#b1)"/><ellipse cx="49" cy="57" rx="16" ry="15" fill="#a86a6a" filter="url(#b1)"/><ellipse cx="49.48" cy="57.75" rx="13.12" ry="12.30" fill="#7a2a2a" filter="url(#b2)"/><ellipse cx="49.96" cy="58.50" rx="8.32" ry="7.80" fill="#261010" filter="url(#b3)"/></g></g></g>
<g transform="translate(687,249) scale(0.9400,0.9100)"><g clip-path="url(#cp)"><rect x="-5" y="-5" width="110" height="110" fill="#d6d6d8"/><g transform="translate(88,58) rotate(-50) scale(1.1)" fill="#e6bfb2" filter="url(#b1)"><rect x="-14" y="-2.6" width="14" height="5.2" rx="2.6"/><ellipse cx="0" cy="0" rx="5" ry="4.2"/><rect x="2.5" y="-1.1" width="8.5" height="2.2" rx="1.1" transform="rotate(-55)"/><rect x="2.5" y="-1.1" width="8.5" height="2.2" rx="1.1" transform="rotate(-25)"/><rect x="2.5" y="-1.1" width="8.5" height="2.2" rx="1.1" transform="rotate(0)"/><rect x="2.5" y="-1.1" width="8.5" height="2.2" rx="1.1" transform="rotate(25)"/><rect x="2.5" y="-1.1" width="8.5" height="2.2" rx="1.1" transform="rotate(50)"/></g><path d="M-5,-5 L60,-5 L64,20 L68,40 L74,58 L80,66 L88,62 L90,70 L80,80 L70,88 L66,105 L-5,105Z" fill="#e4e0d8" filter="url(#b1_5)"/><ellipse cx="42" cy="38" rx="26.40" ry="34.56" transform="rotate(0 42 38)" fill="#bab4be" opacity="0.9" filter="url(#b5)"/><ellipse cx="52" cy="48" rx="18" ry="28" fill="#b6aebe" stroke="#dcd4d8" stroke-width="1.6" opacity="0.85" filter="url(#b1_5)"/><g transform="rotate(12 50 50)" filter="url(#fur)"><g transform="rotate(-12 50 50)"><ellipse cx="42" cy="38" rx="25.20" ry="33.60" transform="rotate(0 42 38)" fill="#000"/></g></g><g transform="rotate(8 50 50)" filter="url(#furl)"><path d="M-5,-5 L60,-5 L64,20 L68,40 L74,58 L80,66 L88,62 L90,70 L80,80 L70,88 L66,105 L-5,105Z" transform="rotate(-8 50 50)" fill="#000"/></g><g transform="rotate(0 55 63)"><ellipse cx="55" cy="63" rx="17.2" ry="18.2" fill="#e2d8d8" filter="url(#b1)"/><ellipse cx="55" cy="63" rx="16" ry="17" fill="#a07070" filter="url(#b1)"/><ellipse cx="56.28" cy="63.00" rx="13.12" ry="13.94" fill="#6a2828" filter="url(#b2)"/><ellipse cx="57.56" cy="63.00" rx="8.32" ry="8.84" fill="#1e1010" filter="url(#b3)"/></g></g></g>
<g transform="translate(103,344.5) scale(0.9300,0.9350)"><g clip-path="url(#cp)"><rect x="-5" y="-5" width="110" height="110" fill="#d8d8e0"/><g transform="translate(82,66) rotate(-60) scale(1.3)" fill="#e6bfb2" filter="url(#b1)"><rect x="-14" y="-2.6" width="14" height="5.2" rx="2.6"/><ellipse cx="0" cy="0" rx="5" ry="4.2"/><rect x="2.5" y="-1.1" width="8.5" height="2.2" rx="1.1" transform="rotate(-55)"/><rect x="2.5" y="-1.1" width="8.5" height="2.2" rx="1.1" transform="rotate(-25)"/><rect x="2.5" y="-1.1" width="8.5" height="2.2" rx="1.1" transform="rotate(0)"/><rect x="2.5" y="-1.1" width="8.5" height="2.2" rx="1.1" transform="rotate(25)"/><rect x="2.5" y="-1.1" width="8.5" height="2.2" rx="1.1" transform="rotate(50)"/></g><path d="M-5,-5 L55,-5 L58,20 L64,40 L68,60 L72,80 L70,90 L60,95 L55,105 L-5,105Z" fill="#ecebe4" filter="url(#b1_5)"/><ellipse cx="35" cy="62" rx="33.00" ry="32.40" transform="rotate(0 35 62)" fill="#beb6bb" opacity="0.9" filter="url(#b5)"/><ellipse cx="52" cy="50" rx="6.00" ry="9.00" transform="rotate(0 52 50)" fill="#c89aa0" opacity="0.9" filter="url(#b2)"/><g transform="rotate(12 50 50)" filter="url(#fur)"><g transform="rotate(-12 50 50)"><ellipse cx="35" cy="62" rx="31.50" ry="31.50" transform="rotate(0 35 62)" fill="#000"/></g></g><g transform="rotate(8 50 50)" filter="url(#furl)"><path d="M-5,-5 L55,-5 L58,20 L64,40 L68,60 L72,80 L70,90 L60,95 L55,105 L-5,105Z" transform="rotate(-8 50 50)" fill="#000"/></g></g></g>
<g transform="translate(199,344.5) scale(0.9450,0.9350)"><g clip-path="url(#cp)"><rect x="-5" y="-5" width="110" height="110" fill="#e2e2e6"/><path d="M60,-5 L86,-5 L88,30 L90,62 L82,48 L72,22Z" fill="#4c4a48" filter="url(#b4)"/><g transform="translate(95,74) rotate(-20) scale(1.0)" fill="#c8a090" filter="url(#b1)"><rect x="-14" y="-2.6" width="14" height="5.2" rx="2.6"/><ellipse cx="0" cy="0" rx="5" ry="4.2"/><rect x="2.5" y="-1.1" width="8.5" height="2.2" rx="1.1" transform="rotate(-55)"/><rect x="2.5" y="-1.1" width="8.5" height="2.2" rx="1.1" transform="rotate(-25)"/><rect x="2.5" y="-1.1" width="8.5" height="2.2" rx="1.1" transform="rotate(0)"/><rect x="2.5" y="-1.1" width="8.5" height="2.2" rx="1.1" transform="rotate(25)"/><rect x="2.5" y="-1.1" width="8.5" height="2.2" rx="1.1" transform="rotate(50)"/></g><path d="M-5,-5 L62,-5 L70,20 L78,40 L84,55 L90,68 L92,76 L85,80 L72,86 L64,100 L62,105 L-5,105Z" fill="#b2ab9e" filter="url(#b1_5)"/><ellipse cx="42" cy="52" rx="30.80" ry="36.72" transform="rotate(0 42 52)" fill="#99938e" opacity="0.85" filter="url(#b5)"/><ellipse cx="55" cy="47" rx="4.00" ry="3.00" transform="rotate(0 55 47)" fill="#3a2a28" opacity="1" filter="url(#b1)"/><g transform="rotate(12 50 50)" filter="url(#fur)"><g transform="rotate(-12 50 50)"><ellipse cx="42" cy="52" rx="29.40" ry="35.70" transform="rotate(0 42 52)" fill="#000"/></g></g><g transform="rotate(8 50 50)" filter="url(#furl)"><path d="M-5,-5 L62,-5 L70,20 L78,40 L84,55 L90,68 L92,76 L85,80 L72,86 L64,100 L62,105 L-5,105Z" transform="rotate(-8 50 50)" fill="#000"/></g><path d="M89,30 L90,38 M92,26 L94,30 L92,34" stroke="#222" stroke-width="0.8" fill="none"/></g></g>
<g transform="translate(296,344.5) scale(0.9500,0.9350)"><g clip-path="url(#cp)"><rect x="-5" y="-5" width="110" height="110" fill="#d8dce2"/><path d="M52,-5 L62,-5 L72,40 L76,62 L66,55 L58,30Z" fill="#7a7a7c" filter="url(#b4)"/><g transform="translate(92,78) rotate(-40) scale(1.2)" fill="#e6bfb2" filter="url(#b1)"><rect x="-14" y="-2.6" width="14" height="5.2" rx="2.6"/><ellipse cx="0" cy="0" rx="5" ry="4.2"/><rect x="2.5" y="-1.1" width="8.5" height="2.2" rx="1.1" transform="rotate(-55)"/><rect x="2.5" y="-1.1" width="8.5" height="2.2" rx="1.1" transform="rotate(-25)"/><rect x="2.5" y="-1.1" width="8.5" height="2.2" rx="1.1" transform="rotate(0)"/><rect x="2.5" y="-1.1" width="8.5" height="2.2" rx="1.1" transform="rotate(25)"/><rect x="2.5" y="-1.1" width="8.5" height="2.2" rx="1.1" transform="rotate(50)"/></g><path d="M-5,-5 L52,-5 L56,20 L62,40 L66,52 L70,60 L78,72 L84,80 L80,85 L70,85 L55,95 L55,105 L-5,105Z" fill="#dedac6" filter="url(#b1_5)"/><ellipse cx="40" cy="55" rx="28.60" ry="32.40" transform="rotate(0 40 55)" fill="#b3b0ab" opacity="0.9" filter="url(#b5)"/><ellipse cx="52" cy="53" rx="1.50" ry="2.50" transform="rotate(0 52 53)" fill="#5a3a30" opacity="1" filter="url(#b1)"/><g transform="rotate(12 50 50)" filter="url(#fur)"><g transform="rotate(-12 50 50)"><ellipse cx="40" cy="55" rx="27.30" ry="31.50" transform="rotate(0 40 55)" fill="#000"/></g></g><g transform="rotate(8 50 50)" filter="url(#furl)"><path d="M-5,-5 L52,-5 L56,20 L62,40 L66,52 L70,60 L78,72 L84,80 L80,85 L70,85 L55,95 L55,105 L-5,105Z" transform="rotate(-8 50 50)" fill="#000"/></g></g></g>
<g transform="translate(393.5,344.5) scale(0.9550,0.9350)"><g clip-path="url(#cp)"><rect x="-5" y="-5" width="110" height="110" fill="#c8d4e0"/><path d="M70,40 L80,60 L84,95 L72,95Z" fill="#b4b8b0" filter="url(#b4)"/><g transform="translate(92,72) rotate(-60) scale(1.2)" fill="#e6bfb2" filter="url(#b1)"><rect x="-14" y="-2.6" width="14" height="5.2" rx="2.6"/><ellipse cx="0" cy="0" rx="5" ry="4.2"/><rect x="2.5" y="-1.1" width="8.5" height="2.2" rx="1.1" transform="rotate(-55)"/><rect x="2.5" y="-1.1" width="8.5" height="2.2" rx="1.1" transform="rotate(-25)"/><rect x="2.5" y="-1.1" width="8.5" height="2.2" rx="1.1" transform="rotate(0)"/><rect x="2.5" y="-1.1" width="8.5" height="2.2" rx="1.1" transform="rotate(25)"/><rect x="2.5" y="-1.1" width="8.5" height="2.2" rx="1.1" transform="rotate(50)"/></g><path d="M-5,-5 L55,-5 L58,20 L64,40 L68,55 L78,70 L82,85 L90,90 L80,95 L60,100 L55,105 L-5,105Z" fill="#e4e2d8" filter="url(#b1_5)"/><ellipse cx="45" cy="50" rx="24.20" ry="32.40" transform="rotate(0 45 50)" fill="#bab7b6" opacity="0.9" filter="url(#b5)"/><ellipse cx="50" cy="53" rx="1.50" ry="2.50" transform="rotate(0 50 53)" fill="#6a4a40" opacity="1" filter="url(#b1)"/><g transform="rotate(12 50 50)" filter="url(#fur)"><g transform="rotate(-12 50 50)"><ellipse cx="45" cy="50" rx="23.10" ry="31.50" transform="rotate(0 45 50)" fill="#000"/></g></g><g transform="rotate(8 50 50)" filter="url(#furl)"><path d="M-5,-5 L55,-5 L58,20 L64,40 L68,55 L78,70 L82,85 L90,90 L80,95 L60,100 L55,105 L-5,105Z" transform="rotate(-8 50 50)" fill="#000"/></g></g></g>
<g transform="translate(492,344.5) scale(0.9400,0.9350)"><g clip-path="url(#cp)"><rect x="-5" y="-5" width="110" height="110" fill="#dadadc"/><path d="M72,68 L84,60 L86,66 L76,76Z" fill="#e6bfb2" filter="url(#b2)"/><g transform="translate(88,62) rotate(-50) scale(1.3)" fill="#e6bfb2" filter="url(#b1)"><rect x="-14" y="-2.6" width="14" height="5.2" rx="2.6"/><ellipse cx="0" cy="0" rx="5" ry="4.2"/><rect x="2.5" y="-1.1" width="8.5" height="2.2" rx="1.1" transform="rotate(-55)"/><rect x="2.5" y="-1.1" width="8.5" height="2.2" rx="1.1" transform="rotate(-25)"/><rect x="2.5" y="-1.1" width="8.5" height="2.2" rx="1.1" transform="rotate(0)"/><rect x="2.5" y="-1.1" width="8.5" height="2.2" rx="1.1" transform="rotate(25)"/><rect x="2.5" y="-1.1" width="8.5" height="2.2" rx="1.1" transform="rotate(50)"/></g><path d="M-5,-5 L52,-5 L56,20 L62,40 L68,50 L74,60 L80,70 L74,78 L60,85 L50,95 L45,105 L-5,105Z" fill="#e8e6dc" filter="url(#b1_5)"/><ellipse cx="35" cy="55" rx="28.60" ry="36.72" transform="rotate(0 35 55)" fill="#bdb8be" opacity="0.9" filter="url(#b5)"/><ellipse cx="50" cy="50" rx="1.50" ry="2.50" transform="rotate(0 50 50)" fill="#5a3a30" opacity="1" filter="url(#b1)"/><g transform="rotate(12 50 50)" filter="url(#fur)"><g transform="rotate(-12 50 50)"><ellipse cx="35" cy="55" rx="27.30" ry="35.70" transform="rotate(0 35 55)" fill="#000"/></g></g><g transform="rotate(8 50 50)" filter="url(#furl)"><path d="M-5,-5 L52,-5 L56,20 L62,40 L68,50 L74,60 L80,70 L74,78 L60,85 L50,95 L45,105 L-5,105Z" transform="rotate(-8 50 50)" fill="#000"/></g></g></g>
<g transform="translate(588.5,344.5) scale(0.9350,0.9350)"><g clip-path="url(#cp)"><rect x="-5" y="-5" width="110" height="110" fill="#dadadc"/><g transform="translate(88,72) rotate(-50) scale(1.3)" fill="#e6bfb2" filter="url(#b1)"><rect x="-14" y="-2.6" width="14" height="5.2" rx="2.6"/><ellipse cx="0" cy="0" rx="5" ry="4.2"/><rect x="2.5" y="-1.1" width="8.5" height="2.2" rx="1.1" transform="rotate(-55)"/><rect x="2.5" y="-1.1" width="8.5" height="2.2" rx="1.1" transform="rotate(-25)"/><rect x="2.5" y="-1.1" width="8.5" height="2.2" rx="1.1" transform="rotate(0)"/><rect x="2.5" y="-1.1" width="8.5" height="2.2" rx="1.1" transform="rotate(25)"/><rect x="2.5" y="-1.1" width="8.5" height="2.2" rx="1.1" transform="rotate(50)"/></g><path d="M-5,-5 L55,-5 L58,20 L64,40 L70,55 L76,68 L82,78 L76,84 L60,90 L55,105 L-5,105Z" fill="#e8e6dc" filter="url(#b1_5)"/><ellipse cx="45" cy="55" rx="26.40" ry="36.72" transform="rotate(0 45 55)" fill="#bbb4bd" opacity="0.9" filter="url(#b5)"/><ellipse cx="55" cy="45" rx="1.50" ry="2.50" transform="rotate(0 55 45)" fill="#5a3a30" opacity="1" filter="url(#b1)"/><g transform="rotate(12 50 50)" filter="url(#fur)"><g transform="rotate(-12 50 50)"><ellipse cx="45" cy="55" rx="25.20" ry="35.70" transform="rotate(0 45 55)" fill="#000"/></g></g><g transform="rotate(8 50 50)" filter="url(#furl)"><path d="M-5,-5 L55,-5 L58,20 L64,40 L70,55 L76,68 L82,78 L76,84 L60,90 L55,105 L-5,105Z" transform="rotate(-8 50 50)" fill="#000"/></g></g></g>
<g transform="translate(687,344.5) scale(0.9400,0.9350)"><g clip-path="url(#cp)"><rect x="-5" y="-5" width="110" height="110" fill="#dadadc"/><g transform="translate(88,76) rotate(-40) scale(1.3)" fill="#e6bfb2" filter="url(#b1)"><rect x="-14" y="-2.6" width="14" height="5.2" rx="2.6"/><ellipse cx="0" cy="0" rx="5" ry="4.2"/><rect x="2.5" y="-1.1" width="8.5" height="2.2" rx="1.1" transform="rotate(-55)"/><rect x="2.5" y="-1.1" width="8.5" height="2.2" rx="1.1" transform="rotate(-25)"/><rect x="2.5" y="-1.1" width="8.5" height="2.2" rx="1.1" transform="rotate(0)"/><rect x="2.5" y="-1.1" width="8.5" height="2.2" rx="1.1" transform="rotate(25)"/><rect x="2.5" y="-1.1" width="8.5" height="2.2" rx="1.1" transform="rotate(50)"/></g><path d="M-5,-5 L62,-5 L66,20 L70,40 L74,55 L80,70 L84,82 L76,86 L60,92 L55,105 L-5,105Z" fill="#e8e6dc" filter="url(#b1_5)"/><ellipse cx="50" cy="55" rx="28.60" ry="36.72" transform="rotate(0 50 55)" fill="#bbb4bd" opacity="0.9" filter="url(#b5)"/><ellipse cx="60" cy="40" rx="1.50" ry="2.50" transform="rotate(0 60 40)" fill="#5a3a30" opacity="1" filter="url(#b1)"/><g transform="rotate(12 50 50)" filter="url(#fur)"><g transform="rotate(-12 50 50)"><ellipse cx="50" cy="55" rx="27.30" ry="35.70" transform="rotate(0 50 55)" fill="#000"/></g></g><g transform="rotate(8 50 50)" filter="url(#furl)"><path d="M-5,-5 L62,-5 L66,20 L70,40 L74,55 L80,70 L84,82 L76,86 L60,92 L55,105 L-5,105Z" transform="rotate(-8 50 50)" fill="#000"/></g><ellipse cx="2" cy="10" rx="4" ry="12" fill="#7a7670" filter="url(#b4)"/></g></g>
<ellipse cx="584.4" cy="66.5" rx="1.4" ry="0.8" fill="#333"/><ellipse cx="585.3" cy="71.3" rx="0.7" ry="0.9" fill="#555"/>
<text x="14.5" y="481.2" font-family='"Liberation Sans", sans-serif' font-size="20" font-weight="bold" text-anchor="start" fill="#000" >B</text>
<g stroke="#111" stroke-width="2" fill="none">
<path d="M139 482 V668.5 M138 667.5 H418.5"/>
<path d="M133 667.5 H139"/>
<path d="M133 621.4 H139"/>
<path d="M133 575.3 H139"/>
<path d="M133 529.2 H139"/>
<path d="M133 483.1 H139"/>
<path d="M148.2 667.5 V673"/>
<path d="M168.2 667.5 V673"/>
<path d="M188.2 667.5 V673"/>
<path d="M208.2 667.5 V673"/>
<path d="M228.2 667.5 V673"/>
<path d="M248.2 667.5 V673"/>
<path d="M268.2 667.5 V673"/>
<path d="M288.2 667.5 V673"/>
<path d="M308.2 667.5 V673"/>
<path d="M328.2 667.5 V673"/>
<path d="M348.2 667.5 V673"/>
<path d="M368.2 667.5 V673"/>
<path d="M388.2 667.5 V673"/>
<path d="M408.2 667.5 V673"/>
</g>
<text x="131" y="672.1" font-family='"Liberation Sans", sans-serif' font-size="13.5" font-weight="bold" text-anchor="end" fill="#111" >0</text>
<text x="131" y="626.0" font-family='"Liberation Sans", sans-serif' font-size="13.5" font-weight="bold" text-anchor="end" fill="#111" >500</text>
<text x="131" y="579.9" font-family='"Liberation Sans", sans-serif' font-size="13.5" font-weight="bold" text-anchor="end" fill="#111" >1000</text>
<text x="131" y="533.8000000000001" font-family='"Liberation Sans", sans-serif' font-size="13.5" font-weight="bold" text-anchor="end" fill="#111" >1500</text>
<text x="131" y="487.70000000000005" font-family='"Liberation Sans", sans-serif' font-size="13.5" font-weight="bold" text-anchor="end" fill="#111" >2000</text>
<text x="148.2" y="688.3" font-family='"Liberation Sans", sans-serif' font-size="13.5" font-weight="bold" text-anchor="middle" fill="#111" >1</text>
<text x="168.2" y="688.3" font-family='"Liberation Sans", sans-serif' font-size="13.5" font-weight="bold" text-anchor="middle" fill="#111" >3</text>
<text x="188.2" y="688.3" font-family='"Liberation Sans", sans-serif' font-size="13.5" font-weight="bold" text-anchor="middle" fill="#111" >5</text>
<text x="208.2" y="688.3" font-family='"Liberation Sans", sans-serif' font-size="13.5" font-weight="bold" text-anchor="middle" fill="#111" >7</text>
<text x="228.2" y="688.3" font-family='"Liberation Sans", sans-serif' font-size="13.5" font-weight="bold" text-anchor="middle" fill="#111" >9</text>
<text x="248.2" y="688.3" font-family='"Liberation Sans", sans-serif' font-size="13.5" font-weight="bold" text-anchor="middle" fill="#111" >11</text>
<text x="268.2" y="688.3" font-family='"Liberation Sans", sans-serif' font-size="13.5" font-weight="bold" text-anchor="middle" fill="#111" >13</text>
<text x="288.2" y="688.3" font-family='"Liberation Sans", sans-serif' font-size="13.5" font-weight="bold" text-anchor="middle" fill="#111" >15</text>
<text x="308.2" y="688.3" font-family='"Liberation Sans", sans-serif' font-size="13.5" font-weight="bold" text-anchor="middle" fill="#111" >17</text>
<text x="328.2" y="688.3" font-family='"Liberation Sans", sans-serif' font-size="13.5" font-weight="bold" text-anchor="middle" fill="#111" >19</text>
<text x="348.2" y="688.3" font-family='"Liberation Sans", sans-serif' font-size="13.5" font-weight="bold" text-anchor="middle" fill="#111" >21</text>
<text x="368.2" y="688.3" font-family='"Liberation Sans", sans-serif' font-size="13.5" font-weight="bold" text-anchor="middle" fill="#111" >23</text>
<text x="388.2" y="688.3" font-family='"Liberation Sans", sans-serif' font-size="13.5" font-weight="bold" text-anchor="middle" fill="#111" >25</text>
<text x="408.2" y="688.3" font-family='"Liberation Sans", sans-serif' font-size="13.5" font-weight="bold" text-anchor="middle" fill="#111" >27</text>
<text x="277.3" y="707" font-family='"Liberation Serif", serif' font-size="14.5" font-weight="bold" text-anchor="middle" fill="#111" >Day</text>
<text transform="translate(91.9,576) rotate(-90)" font-family='"Liberation Serif", serif' font-size="15" letter-spacing="0.75" font-weight="bold" text-anchor="middle" fill="#111">Tumor volume(mm<tspan dy="-6.3" font-size="11.5">3</tspan><tspan dy="6.3">)</tspan></text>
<polyline points="148.2,655.2 168.2,649.9 188.2,637.4 208.2,623.2 228.2,609.4 248.2,584.1 268.2,551.2 288.2,546.9 308.2,534.3 328.2,526.0" fill="none" stroke="#111" stroke-width="2"/>
<circle cx="148.2" cy="655.2" r="3.8" fill="#111"/>
<circle cx="168.2" cy="649.9" r="3.8" fill="#111"/>
<path d="M188.2 641.6 V633.3 M183.4 641.6 H193.0 M183.4 633.3 H193.0" stroke="#111" stroke-width="2.4" fill="none"/>
<circle cx="188.2" cy="637.4" r="3.8" fill="#111"/>
<path d="M208.2 627.9 V618.6 M203.4 627.9 H213.0 M203.4 618.6 H213.0" stroke="#111" stroke-width="2.4" fill="none"/>
<circle cx="208.2" cy="623.2" r="3.8" fill="#111"/>
<path d="M228.2 613.1 V605.7 M223.4 613.1 H233.0 M223.4 605.7 H233.0" stroke="#111" stroke-width="2.4" fill="none"/>
<circle cx="228.2" cy="609.4" r="3.8" fill="#111"/>
<path d="M248.2 591.4 V576.7 M243.4 591.4 H253.0 M243.4 576.7 H253.0" stroke="#111" stroke-width="2.4" fill="none"/>
<circle cx="248.2" cy="584.1" r="3.8" fill="#111"/>
<path d="M268.2 563.2 V539.2 M263.4 563.2 H273.0 M263.4 539.2 H273.0" stroke="#111" stroke-width="2.4" fill="none"/>
<circle cx="268.2" cy="551.2" r="3.8" fill="#111"/>
<path d="M288.2 558.0 V535.8 M283.4 558.0 H293.0 M283.4 535.8 H293.0" stroke="#111" stroke-width="2.4" fill="none"/>
<circle cx="288.2" cy="546.9" r="3.8" fill="#111"/>
<path d="M308.2 539.3 V529.2 M303.4 539.3 H313.0 M303.4 529.2 H313.0" stroke="#111" stroke-width="2.4" fill="none"/>
<circle cx="308.2" cy="534.3" r="3.8" fill="#111"/>
<circle cx="328.2" cy="526.0" r="3.8" fill="#111"/>
<polyline points="148.2,658.3 168.2,656.6 188.2,649.9 208.2,644.1 228.2,624.0 248.2,619.8 268.2,601.2 288.2,603.9 308.2,575.0 328.2,561.5 348.2,544.8 368.2,535.9 388.2,535.9 408.2,526.4" fill="none" stroke="#7ac52a" stroke-width="2"/>
<path d="M148.2 653.3 L153.2 661.8 L143.2 661.8Z" fill="#7ac52a"/>
<path d="M168.2 651.6 L173.2 660.1 L163.2 660.1Z" fill="#7ac52a"/>
<path d="M188.2 653.8 V646.0 M183.4 653.8 H193.0 M183.4 646.0 H193.0" stroke="#7ac52a" stroke-width="2.4" fill="none"/>
<path d="M188.2 644.9 L193.2 653.4 L183.2 653.4Z" fill="#7ac52a"/>
<path d="M208.2 649.2 V639.0 M203.4 649.2 H213.0 M203.4 639.0 H213.0" stroke="#7ac52a" stroke-width="2.4" fill="none"/>
<path d="M208.2 639.1 L213.2 647.6 L203.2 647.6Z" fill="#7ac52a"/>
<path d="M228.2 636.0 V612.0 M223.4 636.0 H233.0 M223.4 612.0 H233.0" stroke="#7ac52a" stroke-width="2.4" fill="none"/>
<path d="M228.2 619.0 L233.2 627.5 L223.2 627.5Z" fill="#7ac52a"/>
<path d="M248.2 632.3 V607.4 M243.4 632.3 H253.0 M243.4 607.4 H253.0" stroke="#7ac52a" stroke-width="2.4" fill="none"/>
<path d="M248.2 614.8 L253.2 623.3 L243.2 623.3Z" fill="#7ac52a"/>
<path d="M268.2 615.0 V587.4 M263.4 615.0 H273.0 M263.4 587.4 H273.0" stroke="#7ac52a" stroke-width="2.4" fill="none"/>
<path d="M268.2 596.2 L273.2 604.7 L263.2 604.7Z" fill="#7ac52a"/>
<path d="M288.2 621.4 V586.4 M283.4 621.4 H293.0 M283.4 586.4 H293.0" stroke="#7ac52a" stroke-width="2.4" fill="none"/>
<path d="M288.2 598.9 L293.2 607.4 L283.2 607.4Z" fill="#7ac52a"/>
<path d="M308.2 587.9 V562.1 M303.4 587.9 H313.0 M303.4 562.1 H313.0" stroke="#7ac52a" stroke-width="2.4" fill="none"/>
<path d="M308.2 570.0 L313.2 578.5 L303.2 578.5Z" fill="#7ac52a"/>
<path d="M328.2 572.5 V550.4 M323.4 572.5 H333.0 M323.4 550.4 H333.0" stroke="#7ac52a" stroke-width="2.4" fill="none"/>
<path d="M328.2 556.5 L333.2 565.0 L323.2 565.0Z" fill="#7ac52a"/>
<path d="M348.2 552.6 V536.9 M343.4 552.6 H353.0 M343.4 536.9 H353.0" stroke="#7ac52a" stroke-width="2.4" fill="none"/>
<path d="M348.2 539.8 L353.2 548.3 L343.2 548.3Z" fill="#7ac52a"/>
<path d="M368.2 543.8 V528.1 M363.4 543.8 H373.0 M363.4 528.1 H373.0" stroke="#7ac52a" stroke-width="2.4" fill="none"/>
<path d="M368.2 530.9 L373.2 539.4 L363.2 539.4Z" fill="#7ac52a"/>
<path d="M388.2 544.2 V527.6 M383.4 544.2 H393.0 M383.4 527.6 H393.0" stroke="#7ac52a" stroke-width="2.4" fill="none"/>
<path d="M388.2 530.9 L393.2 539.4 L383.2 539.4Z" fill="#7ac52a"/>
<path d="M408.2 527.4 V525.5 M403.4 527.4 H413.0 M403.4 525.5 H413.0" stroke="#7ac52a" stroke-width="2.4" fill="none"/>
<path d="M408.2 521.4 L413.2 529.9 L403.2 529.9Z" fill="#7ac52a"/>
<polyline points="148.2,656.6 168.2,660.6 188.2,661.0 208.2,655.2 228.2,654.3 248.2,656.7 268.2,645.2 288.2,628.8 308.2,617.8 328.2,593.5 348.2,568.6 368.2,550.4 388.2,547.5 408.2,538.4" fill="none" stroke="#3c5cb4" stroke-width="2"/>
<rect x="144.2" y="652.6" width="8" height="8" fill="#3c5cb4"/>
<rect x="164.2" y="656.6" width="8" height="8" fill="#3c5cb4"/>
<rect x="184.2" y="657.0" width="8" height="8" fill="#3c5cb4"/>
<rect x="204.2" y="651.2" width="8" height="8" fill="#3c5cb4"/>
<rect x="224.2" y="650.3" width="8" height="8" fill="#3c5cb4"/>
<path d="M248.2 661.3 V652.1 M243.4 661.3 H253.0 M243.4 652.1 H253.0" stroke="#3c5cb4" stroke-width="2.4" fill="none"/>
<rect x="244.2" y="652.7" width="8" height="8" fill="#3c5cb4"/>
<path d="M268.2 652.6 V637.8 M263.4 652.6 H273.0 M263.4 637.8 H273.0" stroke="#3c5cb4" stroke-width="2.4" fill="none"/>
<rect x="264.2" y="641.2" width="8" height="8" fill="#3c5cb4"/>
<path d="M288.2 637.5 V620.0 M283.4 637.5 H293.0 M283.4 620.0 H293.0" stroke="#3c5cb4" stroke-width="2.4" fill="none"/>
<rect x="284.2" y="624.8" width="8" height="8" fill="#3c5cb4"/>
<path d="M308.2 627.0 V608.6 M303.4 627.0 H313.0 M303.4 608.6 H313.0" stroke="#3c5cb4" stroke-width="2.4" fill="none"/>
<rect x="304.2" y="613.8" width="8" height="8" fill="#3c5cb4"/>
<path d="M328.2 605.0 V581.9 M323.4 605.0 H333.0 M323.4 581.9 H333.0" stroke="#3c5cb4" stroke-width="2.4" fill="none"/>
<rect x="324.2" y="589.5" width="8" height="8" fill="#3c5cb4"/>
<path d="M348.2 584.2 V552.9 M343.4 584.2 H353.0 M343.4 552.9 H353.0" stroke="#3c5cb4" stroke-width="2.4" fill="none"/>
<rect x="344.2" y="564.6" width="8" height="8" fill="#3c5cb4"/>
<path d="M368.2 561.5 V539.3 M363.4 561.5 H373.0 M363.4 539.3 H373.0" stroke="#3c5cb4" stroke-width="2.4" fill="none"/>
<rect x="364.2" y="546.4" width="8" height="8" fill="#3c5cb4"/>
<path d="M388.2 557.6 V537.3 M383.4 557.6 H393.0 M383.4 537.3 H393.0" stroke="#3c5cb4" stroke-width="2.4" fill="none"/>
<rect x="384.2" y="543.5" width="8" height="8" fill="#3c5cb4"/>
<path d="M408.2 547.6 V529.2 M403.4 547.6 H413.0 M403.4 529.2 H413.0" stroke="#3c5cb4" stroke-width="2.4" fill="none"/>
<rect x="404.2" y="534.4" width="8" height="8" fill="#3c5cb4"/>
<polyline points="148.2,654.7 168.2,659.5 188.2,660.4 208.2,661.8 228.2,665.2 248.2,665.2 268.2,661.8 288.2,661.8 308.2,656.7 328.2,652.4 348.2,645.5 368.2,638.0 388.2,637.1 408.2,634.8" fill="none" stroke="#dd3a2c" stroke-width="2"/>
<path d="M148.2 659.7 L153.2 651.2 L143.2 651.2Z" fill="#dd3a2c"/>
<path d="M168.2 664.5 L173.2 656.0 L163.2 656.0Z" fill="#dd3a2c"/>
<path d="M188.2 665.4 L193.2 656.9 L183.2 656.9Z" fill="#dd3a2c"/>
<path d="M208.2 666.8 L213.2 658.3 L203.2 658.3Z" fill="#dd3a2c"/>
<path d="M228.2 670.2 L233.2 661.7 L223.2 661.7Z" fill="#dd3a2c"/>
<path d="M248.2 670.2 L253.2 661.7 L243.2 661.7Z" fill="#dd3a2c"/>
<path d="M268.2 665.5 V658.1 M263.4 665.5 H273.0 M263.4 658.1 H273.0" stroke="#dd3a2c" stroke-width="2.4" fill="none"/>
<path d="M268.2 666.8 L273.2 658.3 L263.2 658.3Z" fill="#dd3a2c"/>
<path d="M288.2 665.5 V658.1 M283.4 665.5 H293.0 M283.4 658.1 H293.0" stroke="#dd3a2c" stroke-width="2.4" fill="none"/>
<path d="M288.2 666.8 L293.2 658.3 L283.2 658.3Z" fill="#dd3a2c"/>
<path d="M308.2 665.5 V648.0 M303.4 665.5 H313.0 M303.4 648.0 H313.0" stroke="#dd3a2c" stroke-width="2.4" fill="none"/>
<path d="M308.2 661.7 L313.2 653.2 L303.2 653.2Z" fill="#dd3a2c"/>
<path d="M328.2 664.4 V640.4 M323.4 664.4 H333.0 M323.4 640.4 H333.0" stroke="#dd3a2c" stroke-width="2.4" fill="none"/>
<path d="M328.2 657.4 L333.2 648.9 L323.2 648.9Z" fill="#dd3a2c"/>
<path d="M348.2 662.5 V628.4 M343.4 662.5 H353.0 M343.4 628.4 H353.0" stroke="#dd3a2c" stroke-width="2.4" fill="none"/>
<path d="M348.2 650.5 L353.2 642.0 L343.2 642.0Z" fill="#dd3a2c"/>
<path d="M368.2 662.2 V613.8 M363.4 662.2 H373.0 M363.4 613.8 H373.0" stroke="#dd3a2c" stroke-width="2.4" fill="none"/>
<path d="M368.2 643.0 L373.2 634.5 L363.2 634.5Z" fill="#dd3a2c"/>
<path d="M388.2 661.3 V612.8 M383.4 661.3 H393.0 M383.4 612.8 H393.0" stroke="#dd3a2c" stroke-width="2.4" fill="none"/>
<path d="M388.2 642.1 L393.2 633.6 L383.2 633.6Z" fill="#dd3a2c"/>
<path d="M408.2 659.2 V610.3 M403.4 659.2 H413.0 M403.4 610.3 H413.0" stroke="#dd3a2c" stroke-width="2.4" fill="none"/>
<path d="M408.2 639.8 L413.2 631.3 L403.2 631.3Z" fill="#dd3a2c"/>
<path d="M441.3 491.7 H462.1" stroke="#111" stroke-width="2"/>
<circle cx="451.7" cy="491.7" r="3.8" fill="#111"/>
<text x="473.3" y="496.2" font-family='"Liberation Serif", serif' font-size="13" font-weight="normal" text-anchor="start" fill="#111" >PBS</text>
<path d="M441.3 522.1 H462.1" stroke="#3c5cb4" stroke-width="2"/>
<rect x="447.7" y="518.1" width="8" height="8" fill="#3c5cb4"/>
<text x="473.3" y="526.6" font-family='"Liberation Serif", serif' font-size="13" font-weight="normal" text-anchor="start" fill="#3c5cb4" >S.t ΔppGpp</text>
<path d="M441.3 553.6 H462.1" stroke="#7ac52a" stroke-width="2"/>
<path d="M451.7 548.6 L456.7 557.1 L446.7 557.1Z" fill="#7ac52a"/>
<text x="473.3" y="558.1" font-family='"Liberation Serif", serif' font-size="13" font-weight="normal" text-anchor="start" fill="#7ac52a" >KDCE</text>
<path d="M441.3 586.3 H462.1" stroke="#dd3a2c" stroke-width="2"/>
<path d="M451.7 591.3 L456.7 582.8 L446.7 582.8Z" fill="#dd3a2c"/>
<text x="473.3" y="590.8" font-family='"Liberation Serif", serif' font-size="13" font-weight="normal" text-anchor="start" fill="#dd3a2c" >KDCE+S.t ΔppGpp</text>
<g stroke="#5e5e5e" stroke-width="1.4" fill="none">
<path d="M579.2 551.5 H583.7 V587.9 H579.2"/>
<path d="M597.6 519.4 H602.2 V587 H597.6"/>
<path d="M617.4 486.7 H622.2 V587 H617.4"/>
</g>
<path d="M589.60 561.50 L589.60 566.50 M587.43 562.75 L591.77 565.25 M587.43 565.25 L591.77 562.75 " stroke="#5a5a5a" stroke-width="1.3" fill="none"/>
<path d="M589.60 568.60 L589.60 573.60 M587.43 569.85 L591.77 572.35 M587.43 572.35 L591.77 569.85 " stroke="#5a5a5a" stroke-width="1.3" fill="none"/>
<path d="M589.60 575.30 L589.60 580.30 M587.43 576.55 L591.77 579.05 M587.43 579.05 L591.77 576.55 " stroke="#5a5a5a" stroke-width="1.3" fill="none"/>
<path d="M608.40 544.40 L608.40 549.40 M606.23 545.65 L610.57 548.15 M606.23 548.15 L610.57 545.65 " stroke="#5a5a5a" stroke-width="1.3" fill="none"/>
<path d="M608.40 552.60 L608.40 557.60 M606.23 553.85 L610.57 556.35 M606.23 556.35 L610.57 553.85 " stroke="#5a5a5a" stroke-width="1.3" fill="none"/>
<path d="M608.40 560.50 L608.40 565.50 M606.23 561.75 L610.57 564.25 M606.23 564.25 L610.57 561.75 " stroke="#5a5a5a" stroke-width="1.3" fill="none"/>
<path d="M628.20 531.70 L628.20 536.70 M626.03 532.95 L630.37 535.45 M626.03 535.45 L630.37 532.95 " stroke="#5a5a5a" stroke-width="1.3" fill="none"/>
<path d="M628.20 540.20 L628.20 545.20 M626.03 541.45 L630.37 543.95 M626.03 543.95 L630.37 541.45 " stroke="#5a5a5a" stroke-width="1.3" fill="none"/>
<path d="M628.20 548.20 L628.20 553.20 M626.03 549.45 L630.37 551.95 M626.03 551.95 L630.37 549.45 " stroke="#5a5a5a" stroke-width="1.3" fill="none"/>
<text x="13.8" y="750.3" font-family='"Liberation Sans", sans-serif' font-size="20" font-weight="bold" text-anchor="start" fill="#000" >C</text>
<text x="261.4" y="749.2" font-family='"Liberation Serif", serif' font-size="14.5" font-weight="bold" text-anchor="middle" fill="#111" letter-spacing="0.6">Survival proportions</text>
<g stroke="#111" stroke-width="2" fill="none">
<path d="M126.6 770 V949.8 M125.6 948.8 H397"/>
<path d="M120.5 948.8 H126.6"/>
<path d="M120.5 889.5 H126.6"/>
<path d="M120.5 830.2 H126.6"/>
<path d="M120.5 770.9 H126.6"/>
<path d="M126.6 948.8 V954.5"/>
<path d="M216.2 948.8 V954.5"/>
<path d="M305.8 948.8 V954.5"/>
<path d="M395.4 948.8 V954.5"/>
</g>
<text x="119" y="953.4" font-family='"Liberation Sans", sans-serif' font-size="13.5" font-weight="bold" text-anchor="end" fill="#111" >0</text>
<text x="119" y="894.1" font-family='"Liberation Sans", sans-serif' font-size="13.5" font-weight="bold" text-anchor="end" fill="#111" >50</text>
<text x="119" y="834.8" font-family='"Liberation Sans", sans-serif' font-size="13.5" font-weight="bold" text-anchor="end" fill="#111" >100</text>
<text x="119" y="775.5" font-family='"Liberation Sans", sans-serif' font-size="13.5" font-weight="bold" text-anchor="end" fill="#111" >150</text>
<text x="126.6" y="968.6" font-family='"Liberation Sans", sans-serif' font-size="13.5" font-weight="bold" text-anchor="middle" fill="#111" >0</text>
<text x="216.2" y="968.6" font-family='"Liberation Sans", sans-serif' font-size="13.5" font-weight="bold" text-anchor="middle" fill="#111" >10</text>
<text x="305.8" y="968.6" font-family='"Liberation Sans", sans-serif' font-size="13.5" font-weight="bold" text-anchor="middle" fill="#111" >20</text>
<text x="395.4" y="968.6" font-family='"Liberation Sans", sans-serif' font-size="13.5" font-weight="bold" text-anchor="middle" fill="#111" >30</text>
<text x="262" y="987" font-family='"Liberation Serif", serif' font-size="14.5" font-weight="bold" text-anchor="middle" fill="#111" >Day</text>
<text transform="translate(89.2,859) rotate(-90)" font-family='"Liberation Serif", serif' font-size="15" letter-spacing="0.3" font-weight="bold" text-anchor="middle" fill="#111">Percent survival(%)</text>
<path d="M126.6 830.2 H243.1 V877.6 H261.0 V901.4 H278.9 V925.1 H296.8 V948.8" stroke="#111" stroke-width="2" fill="none"/>
<path d="M126.6 830.2 H314.8 V859.8 H332.7 V889.5 H368.5 V948.8" stroke="#3c5cb4" stroke-width="2" fill="none"/>
<path d="M126.6 830.2 H261.0 V850.0 H314.8 V869.7 H332.7 V909.3 H368.5 V948.8" stroke="#7ac52a" stroke-width="2" fill="none"/>
<path d="M261.0 850.0 v-4" stroke="#111" stroke-width="1.6"/>
<path d="M314.8 869.7 v-4" stroke="#111" stroke-width="1.6"/>
<path d="M332.7 909.3 v-4" stroke="#111" stroke-width="1.6"/>
<path d="M368.5 948.8 v-4" stroke="#111" stroke-width="1.6"/>
<path d="M126.6 830.2 H332.7 V850.0 H368.5" stroke="#dd3a2c" stroke-width="2" fill="none"/>
<path d="M414.9 780.9 H434.9" stroke="#111" stroke-width="1.6"/>
<path d="M424.7 780.9 v-4" stroke="#111" stroke-width="1.3"/>
<text x="445.1" y="785.3" font-family='"Liberation Serif", serif' font-size="12.5" font-weight="normal" text-anchor="start" fill="#111" >PBS</text>
<path d="M414.9 801.9 H434.9" stroke="#3c5cb4" stroke-width="1.6"/>
<path d="M424.7 801.9 v-4" stroke="#111" stroke-width="1.3"/>
<text x="445.1" y="806.3" font-family='"Liberation Serif", serif' font-size="12.5" font-weight="normal" text-anchor="start" fill="#3c5cb4" >S.t ΔppGpp</text>
<path d="M414.9 822.3 H434.9" stroke="#7ac52a" stroke-width="1.6"/>
<path d="M424.7 822.3 v-4" stroke="#111" stroke-width="1.3"/>
<text x="445.1" y="826.6999999999999" font-family='"Liberation Serif", serif' font-size="12.5" font-weight="normal" text-anchor="start" fill="#7ac52a" >KDCE</text>
<path d="M414.9 842.8 H434.9" stroke="#dd3a2c" stroke-width="1.6"/>
<rect x="424" y="842.0" width="1.6" height="1.6" fill="#111"/>
<text x="445.1" y="847.1999999999999" font-family='"Liberation Serif", serif' font-size="12.5" font-weight="normal" text-anchor="start" fill="#dd3a2c" >KDCE+S.t ΔppGpp</text>
</svg>
</body></html>
